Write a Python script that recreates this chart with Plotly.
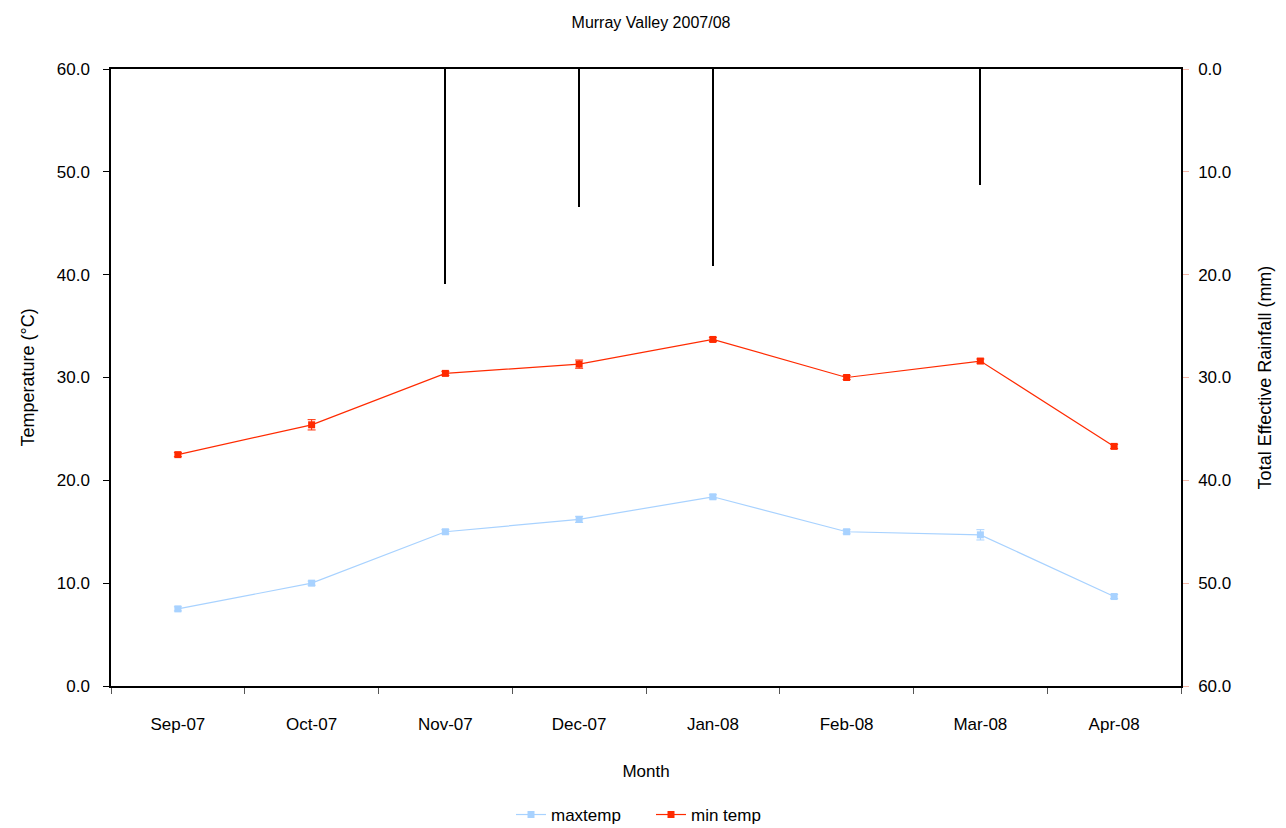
import plotly.graph_objects as go

months = ["Sep-07", "Oct-07", "Nov-07", "Dec-07", "Jan-08", "Feb-08", "Mar-08", "Apr-08"]
maxtemp = [7.5, 10.0, 15.0, 16.2, 18.4, 15.0, 14.7, 8.7]
maxtemp_err = [0.2, 0.2, 0.2, 0.3, 0.2, 0.2, 0.5, 0.2]
mintemp = [22.5, 25.4, 30.4, 31.3, 33.7, 30.0, 31.6, 23.3]
mintemp_err = [0.2, 0.5, 0.2, 0.4, 0.2, 0.2, 0.2, 0.2]
rainfall = [0.0, 0.0, 20.9, 13.4, 19.2, 0.0, 11.3, 0.0]

NARROW = "Liberation Sans Narrow, Arial Narrow, Liberation Sans, Arial, sans-serif"
REG = "Liberation Sans, Arial, sans-serif"

fig = go.Figure()

fig.add_trace(go.Bar(
    x=months, y=rainfall, yaxis="y2", width=0.008,
    marker=dict(color="black", line=dict(width=0)),
    showlegend=False, name="rainfall"))

fig.add_trace(go.Scatter(
    x=months, y=maxtemp, name="maxtemp", mode="lines+markers",
    line=dict(color="#A8D2FF", width=1.2),
    marker=dict(symbol="square", size=7, color="#A8D2FF"),
    error_y=dict(type="data", array=maxtemp_err, color="#A8D2FF", thickness=1, width=4)))

fig.add_trace(go.Scatter(
    x=months, y=mintemp, name="min temp", mode="lines+markers",
    line=dict(color="#FF2A00", width=1.2),
    marker=dict(symbol="square", size=7, color="#FF2A00"),
    error_y=dict(type="data", array=mintemp_err, color="#FF2A00", thickness=1, width=4)))

fig.update_layout(
    width=1286, height=828,
    paper_bgcolor="white", plot_bgcolor="white",
    margin=dict(l=103, r=113, t=61, b=150),
    title=dict(text="Murray Valley 2007/08", x=0.5, xanchor="center", y=0.983, yanchor="middle",
               font=dict(family=NARROW, size=16, color="black")),
    xaxis=dict(
        title=dict(text="Month", font=dict(family=NARROW, size=17, color="black"), standoff=32),
        tickfont=dict(family=NARROW, size=17, color="black"),
        showline=True, linecolor="black", linewidth=1.5, mirror=True,
        ticks="outside", tickson="boundaries", ticklen=6, tickcolor="#555",
        ticklabelstandoff=22,
        showgrid=False, range=[-0.5, 7.5], automargin=False),
    yaxis=dict(
        title=dict(text="Temperature (°C)", font=dict(family=REG, size=18, color="black"), standoff=17),
        range=[0, 60], dtick=10, tickformat=".1f",
        tickfont=dict(family=NARROW, size=17, color="black"),
        showline=True, linecolor="black", linewidth=1.5,
        ticks="outside", ticklen=6, tickcolor="black", ticklabelstandoff=10,
        showgrid=False, zeroline=False, automargin=False),
    yaxis2=dict(
        title=dict(text="Total Effective Rainfall (mm)", font=dict(family=REG, size=18, color="black"), standoff=28),
        overlaying="y", side="right", range=[60, 0], dtick=10, tickformat=".1f",
        tickfont=dict(family=NARROW, size=17, color="black"),
        showline=True, linecolor="black", linewidth=1.5,
        ticks="outside", ticklen=6, tickcolor="#F4B8A8", ticklabelstandoff=6,
        showgrid=False, zeroline=False, automargin=False),
    legend=dict(orientation="h", x=0.5, xanchor="center", xref="container",
                y=0.0254, yanchor="middle", yref="container",
                entrywidth=95, entrywidthmode="pixels",
                font=dict(family=NARROW, size=17, color="black")),
    bargap=0,
)

fig.write_html("out.html")
